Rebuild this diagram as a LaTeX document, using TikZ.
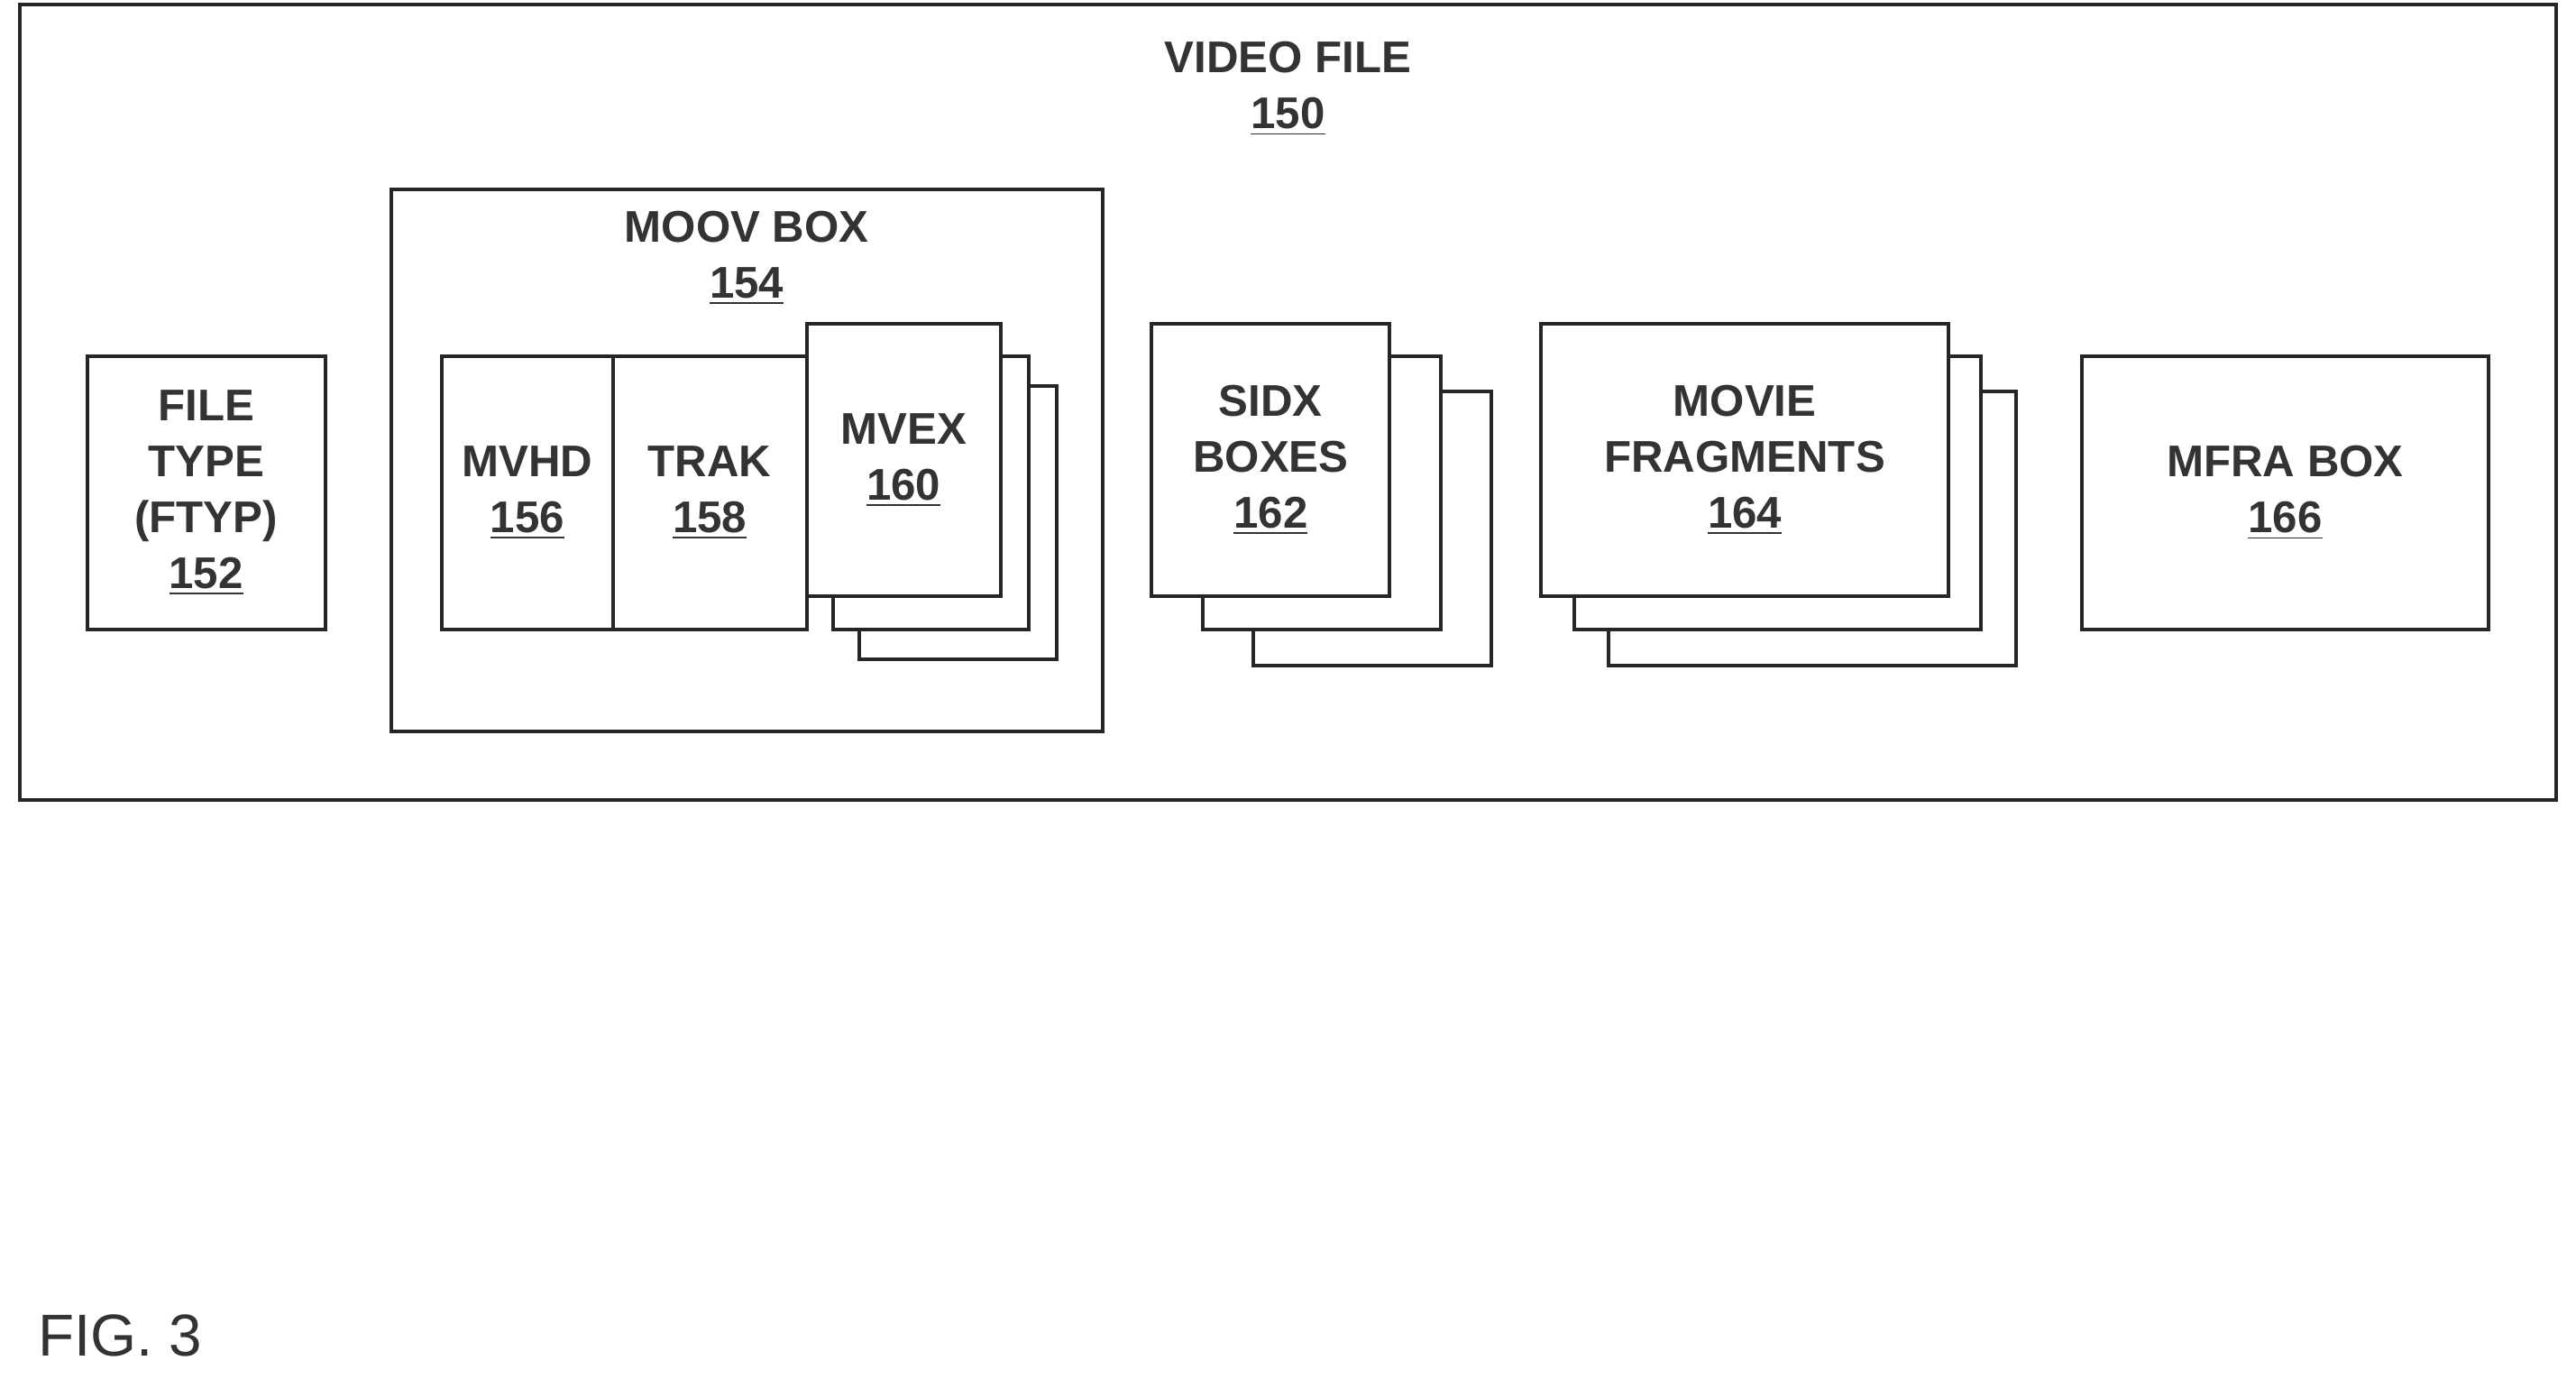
\documentclass[tikz,border=0pt]{standalone}
\usepackage{fontspec}
\setmainfont{Liberation Sans}
\begin{document}
\begin{tikzpicture}[x=0.5pt,y=-0.5pt,
  bx/.style={draw=black!85,line width=1.1pt,fill=white},
  lbl/.style={align=center,font=\fontsize{13.5}{17}\selectfont\bfseries,text=black!80}]
\useasboundingbox (0,0) rectangle (1568,839);
\draw[bx] (12,3) rectangle (1556,487);
\node[lbl] (vf) at (784,54) {VIDEO FILE\\\underline{150}};
\draw[bx] (53,217) rectangle (198,383);
\node[lbl] (ft) at (125.5,300) {FILE\\TYPE\\(FTYP)\\\underline{152}};
\draw[bx] (238,115) rectangle (671,445);
\node[lbl] (mv) at (454.5,157) {MOOV BOX\\\underline{154}};
\draw[bx] (523,235) rectangle (643,401);
\draw[bx] (507,217) rectangle (626,383);
\draw[bx] (269,217) rectangle (373,383);
\node[lbl] (mvhd) at (321,300) {MVHD\\\underline{156}};
\draw[bx] (373,217) rectangle (491,383);
\node[lbl] (trak) at (432,300) {TRAK\\\underline{158}};
\draw[bx] (491,197) rectangle (609,363);
\node[lbl] (mvex) at (550,280) {MVEX\\\underline{160}};
\draw[bx] (763,238) rectangle (908,405);
\draw[bx] (732,217) rectangle (877,383);
\draw[bx] (701,197) rectangle (846,363);
\node[lbl] (sidx) at (773.5,280) {SIDX\\BOXES\\\underline{162}};
\draw[bx] (979,238) rectangle (1227,405);
\draw[bx] (958,217) rectangle (1206,383);
\draw[bx] (938,197) rectangle (1186,363);
\node[lbl] (mf) at (1062,280) {MOVIE\\FRAGMENTS\\\underline{164}};
\draw[bx] (1267,217) rectangle (1515,383);
\node[lbl] (mfra) at (1391,300) {MFRA BOX\\\underline{166}};
\node[anchor=west,font=\fontsize{18}{20}\selectfont,text=black!80] (fig) at (16,813) {FIG. 3};
\end{tikzpicture}
\end{document}
